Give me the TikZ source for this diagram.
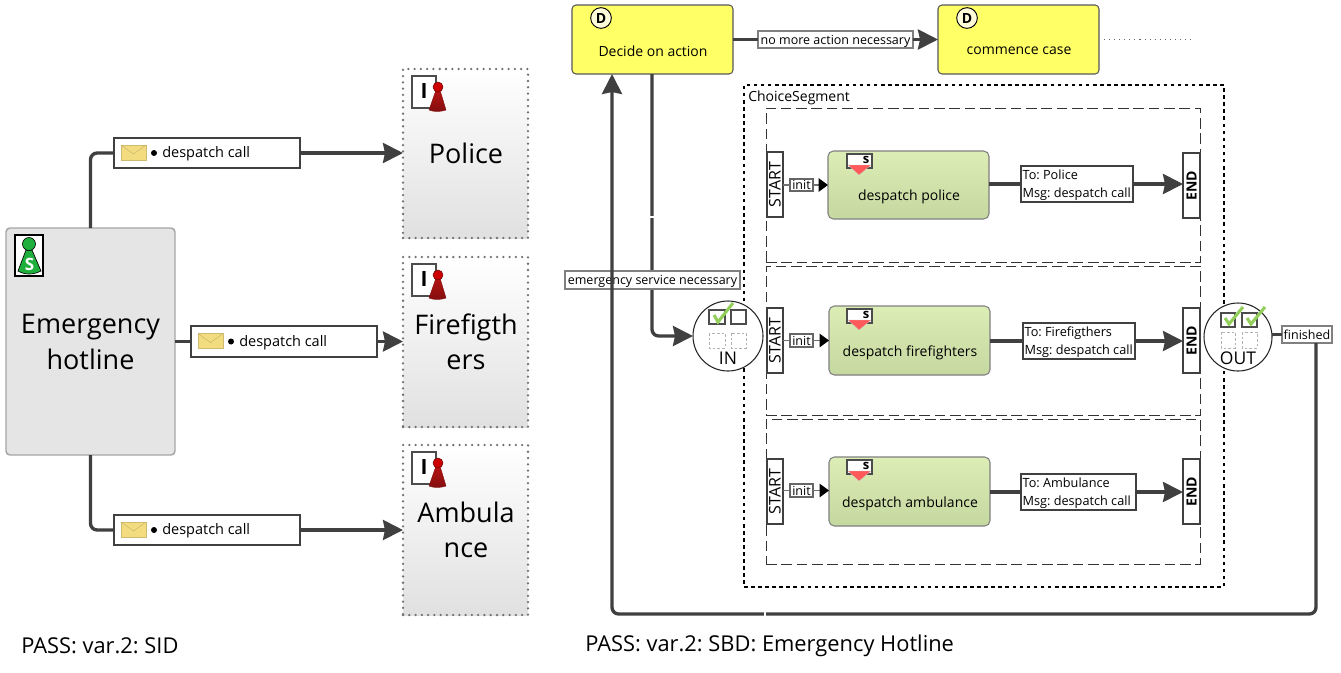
\documentclass[tikz,border=0pt]{standalone}
\usepackage{fontspec}
\setmainfont{Open Sans}
\usetikzlibrary{arrows.meta}
\frenchspacing
\definecolor{conn}{HTML}{404040}
\definecolor{edgeg}{HTML}{707070}
\newcommand\fpx[1]{\pgfmathsetlengthmacro\fsz{#1*0.75}\pgfmathsetlengthmacro\fsl{#1*0.75*1.3}\fontsize{\fsz}{\fsl}\selectfont\frenchspacing}
% box from corners: name, x1,y1,x2,y2, style, text
\newcommand\bx[7]{%
  \pgfmathsetmacro\cxx{(#2+#4)/2}\pgfmathsetmacro\cyy{(#3+#5)/2}%
  \pgfmathsetlengthmacro\ww{(#4-#2)*0.75}\pgfmathsetlengthmacro\hh{(#5-#3)*0.75}%
  \node[inner sep=0pt,outer sep=0pt,minimum width=\ww,minimum height=\hh,#6] (#1) at (\cxx,\cyy) {#7};}
\tikzset{
  x=0.75pt,y=-0.75pt,
  every node/.style={text=black},
  conline/.style={draw=conn,line width=2.5pt,rounded corners=5pt},
  arrowline/.style={conline,-{Stealth[length=15pt,width=15pt,inset=1.5pt]}},
  thinarrow/.style={draw=edgeg,line width=1pt,-{Triangle[length=7pt,width=10pt,color=black]}},
  subject/.style={rounded corners=3pt,draw=black!35,line width=1.1pt,fill=black!10},
  interface/.style={draw=edgeg,line width=1.9pt,line cap=round,dash pattern=on 0pt off 4.7pt,top color=white,bottom color=black!12},
  msglabel/.style={draw=black!75,line width=1pt,fill=white},
  bigtext/.style={font=\fpx{27},align=center,inner sep=0pt},
  smalltext/.style={font=\fpx{14.5},inner sep=0pt,anchor=west,align=left},
  state/.style={rounded corners=3pt,draw=black!65,line width=.8pt,fill=yellowstate},
  sendstate/.style={rounded corners=4pt,draw=black!50,line width=.8pt,top color=greentop,bottom color=greenbot},
  smallbox/.style={draw=black!75,line width=.8pt,fill=white},
  lane/.style={draw=black!80,line width=.75pt,dash pattern=on 8pt off 3.5pt},
  choiceseg/.style={draw=black,line width=2.15pt,dash pattern=on 2.7pt off 2.6pt},
  gatecircle/.style={circle,draw=black!85,line width=.8pt,fill=white,inner sep=0pt,outer sep=0pt},
  cbx/.style={draw=black!70,line width=1pt,fill=white},
  cbxd/.style={draw=black!30,line width=.6pt,dash pattern=on 2pt off 1.5pt},
  tick/.style={draw=tickgreen,line width=2.3pt},
  gapmark/.style={draw=white,line width=.8pt},
  totext/.style={font=\fpx{12.7},align=left,inner sep=0pt,anchor=west,xshift=1pt,yshift=-1.1pt},
  condlabel/.style={smallbox,draw=black!50,font=\fpx{12.5},text depth=0pt},
  initlabel/.style={smallbox,draw=black!60,font=\fpx{12.5},text depth=0pt},
}
\definecolor{yellowstate}{HTML}{FFFF66}
\definecolor{greentop}{HTML}{DCEDB5}
\definecolor{greenbot}{HTML}{C5D8A0}
\definecolor{tickgreen}{HTML}{92CF5A}
\definecolor{pawnred}{HTML}{B81414}
\definecolor{pawngreen}{HTML}{1FAF3C}
\definecolor{envfill}{HTML}{F3DC80}
\newcommand\msg[5]{% name, x1,y1,x2,y2
  \bx{#1}{#2}{#3}{#4}{#5}{msglabel}{}
  \pgfmathsetmacro\my{(#3+#5)/2}\pgfmathsetmacro\ex{#2+7}\pgfmathsetmacro\exx{#2+32}
  \pgfmathsetmacro\ey{\my-8}\pgfmathsetmacro\eyy{\my+7}\pgfmathsetmacro\emy{\my+1}\pgfmathsetmacro\ecx{(\ex+\exx)/2}
  \draw[fill=envfill,draw=envfill!85!black,line width=.4pt] (\ex,\ey) rectangle (\exx,\eyy);
  \draw[draw=envfill!80!black,line width=.3pt] (\ex,\ey) -- (\ecx,\emy) -- (\exx,\ey);
  \pgfmathsetmacro\dx{#2+40}\fill[black] (\dx,\my) circle (3);
  \pgfmathsetmacro\tx{#2+48}\pgfmathsetmacro\tyy{\my+1}\node[smalltext] (#1t) at (\tx,\tyy) {despatch call};}
\newcommand\redpawn[1]{% y offset
  \begin{scope}[yshift=-#1*0.75pt]
  \draw[draw=black!70,line width=.9pt,fill=white] (412,76) rectangle (436,108);
  \node[font=\fpx{21}\bfseries,inner sep=0pt] at (424,91) {I};
  \shade[top color=pawnred,bottom color=pawnred!70!black,draw=pawnred!70!black,line width=.3pt] (436,90) -- (440,90) -- (446,110) .. controls (440,112) and (434,112) .. (429,110) -- cycle;
  \fill[red!80!black,draw=pawnred!60!black,line width=.4pt] (438,87) circle (5);
  \end{scope}}
\newcommand\dicon[1]{\node[circle,draw=black,line width=.7pt,fill=yellow!15,minimum size=15.5pt,inner sep=0pt,font=\fpx{14}\bfseries] at (#1,18) {D};}
\newcommand\sicon[1]{%
  \begin{scope}[yshift=-#1*0.75pt]
  \draw[draw=black!70,line width=.9pt,fill=white] (847,154) rectangle (872,168);
  \fill[red!65,draw=black!20,line width=.2pt] (848,165) -- (871,165) -- (859,175) -- cycle;
  \node[font=\fpx{13}\bfseries,inner sep=0pt] at (866,160) {s};
  \end{scope}}
\begin{document}
\begin{tikzpicture}
\useasboundingbox (0,0) rectangle (1341,672);
\fill[white] (0,0) rectangle (1341,672);

% ---- SID
\bx{hot}{6}{228}{175}{455}{subject}{}
\node[bigtext] (hott) at (90.5,342) {Emergency\\hotline};
\draw[draw=black,line width=.8pt,fill=white] (15,235) rectangle (43,276);
\fill[pawngreen,draw=black,line width=.5pt] (26,250) -- (32,250) -- (41,271) .. controls (33,275) and (25,275) .. (18,271) -- cycle;
\fill[pawngreen,draw=black,line width=.5pt] (29,244) circle (6.5);
\node[font=\fpx{17}\bfseries,text=white,inner sep=0pt] at (29.5,264) {S};

\bx{police}{403}{69}{528}{238}{interface}{}
\bx{fire}{403}{257}{528}{427}{interface}{}
\bx{amb}{403}{445}{528}{615}{interface}{}
\node[bigtext] (policet) at (466,153) {Police};
\node[bigtext] (firet) at (466,342) {Firefigth\\ers};
\node[bigtext] (ambt) at (466,530) {Ambula\\nce};
\redpawn{0}\redpawn{188}\redpawn{376}

\msg{ma}{114}{138}{300}{168}
\msg{mb}{191}{326}{377}{357}
\msg{mc}{114}{515}{300}{545}

\draw[conline] (hot.north) |- (ma.west);
\draw[conline] (hot.east |- mb) -- (mb.west);
\draw[conline] (hot.south) |- (mc.west);
\draw[arrowline] (ma.east) -- (police.west |- ma);
\draw[arrowline] (mb.east) -- (fire.west |- mb);
\draw[arrowline] (mc.east) -- (amb.west |- mc);

\node[font=\fpx{21.85},inner sep=0pt,anchor=west] (cap1) at (21,646) {PASS: var.2: SID};
\node[font=\fpx{21.85},inner sep=0pt,anchor=west] (cap2) at (585,646) {PASS: var.2: SBD: Emergency Hotline};

% ---- SBD
\bx{seg}{744}{85}{1224}{587}{choiceseg}{}
\node[font=\fpx{14},inner sep=0pt,anchor=west] (segt) at (748,98) {ChoiceSegment};
\bx{la}{766}{108}{1200}{262}{lane}{}
\bx{lb}{766}{266}{1200}{415}{lane}{}
\bx{lc}{766}{419}{1200}{564}{lane}{}

\bx{dec}{572}{5}{733}{74}{state}{}
\node[font=\fpx{14},inner sep=0pt] (dect) at (653,51) {Decide on action};
\bx{com}{938}{5}{1099}{74}{state}{}
\node[font=\fpx{14},inner sep=0pt] (comt) at (1019,51) {commence case};
\dicon{601}\dicon{967}
\coordinate (dota) at (1104,39);
\coordinate (dotb) at (1192,39);
\draw[draw=black!60,line width=.6pt,dash pattern=on .8pt off 3pt] (dota) -- (dotb);

% gates
\node[gatecircle,minimum size=52.5pt] (in) at (728,336) {};
\node[gatecircle,minimum size=51pt] (out) at (1238,337) {};
\node[font=\fpx{17.5},inner sep=0pt] (int) at (728,358) {IN};
\node[font=\fpx{17.5},inner sep=0pt] (outt) at (1238,358) {OUT};
\draw[cbx] (709,310) rectangle (725,324);
\draw[cbx] (731,310) rectangle (746,324);
\draw[cbxd] (709,333) rectangle (725,348);
\draw[cbxd] (731,333) rectangle (746,348);
\draw[tick] (714,315) -- (718,322) -- (733,303);
\draw[cbx] (1221,313) rectangle (1235,327);
\draw[cbx] (1242,313) rectangle (1257,327);
\draw[cbxd] (1221,332) rectangle (1235,348);
\draw[cbxd] (1242,332) rectangle (1257,348);
\draw[tick] (1225,318) -- (1229,324) -- (1243,307);
\draw[tick] (1247,318) -- (1251,324) -- (1265,307);

% lane contents
\bx{sa}{767}{152}{783}{217}{smallbox}{\rotatebox{90}{\fpx{16}START}}
\bx{sb}{767}{308}{783}{373}{smallbox}{\rotatebox{90}{\fpx{16}START}}
\bx{sc}{767}{459}{783}{524}{smallbox}{\rotatebox{90}{\fpx{16}START}}
\bx{ea}{1183}{153}{1200}{218}{smallbox}{\rotatebox{90}{\fpx{14}\bfseries END}}
\bx{eb}{1183}{308}{1200}{373}{smallbox}{\rotatebox{90}{\fpx{14}\bfseries END}}
\bx{ec}{1183}{459}{1200}{524}{smallbox}{\rotatebox{90}{\fpx{14}\bfseries END}}
\bx{aa}{828}{151}{989}{219}{sendstate}{}
\bx{ab}{829}{306}{990}{375}{sendstate}{}
\bx{ac}{829}{457}{990}{526}{sendstate}{}
\node[font=\fpx{14},inner sep=0pt] (aat) at (909,197) {despatch police};
\node[font=\fpx{14},inner sep=0pt] (abt) at (910,353) {despatch firefighters};
\node[font=\fpx{14},inner sep=0pt] (act) at (910,504) {despatch ambulance};
\sicon{0}\sicon{155}\sicon{306}
\bx{ia}{790}{179}{813}{191}{initlabel}{init}
\bx{ib}{790}{334}{813}{347}{initlabel}{init}
\bx{ic}{790}{484}{813}{497}{initlabel}{init}
\draw[draw=edgeg,line width=1pt] (sa.east |- ia) -- (ia.west);
\draw[draw=edgeg,line width=1pt] (sb.east |- ib) -- (ib.west);
\draw[draw=edgeg,line width=1pt] (sc.east |- ic) -- (ic.west);
\draw[thinarrow] (ia.east) -- (aa.west |- ia);
\draw[thinarrow] (ib.east) -- (ab.west |- ib);
\draw[thinarrow] (ic.east) -- (ac.west |- ic);

\bx{ta}{1021}{166}{1133}{202}{smallbox}{}
\bx{tb}{1023}{323}{1135}{359}{smallbox}{}
\bx{tc}{1021}{474}{1136}{510}{smallbox}{}
\node[totext] (tat) at (ta.west) {To: Police\\[1.2pt]Msg: despatch call};
\node[totext] (tbt) at (tb.west) {To: Firefigthers\\[1.2pt]Msg: despatch call};
\node[totext] (tct) at (tc.west) {To: Ambulance\\[1.2pt]Msg: despatch call};
\draw[conline] (aa.east |- ta) -- (ta.west);
\draw[conline] (ab.east |- tb) -- (tb.west);
\draw[conline] (ac.east |- tc) -- (tc.west);
\draw[arrowline] (ta.east) -- (ea.west |- ta);
\draw[arrowline] (tb.east) -- (eb.west |- tb);
\draw[arrowline] (tc.east) -- (ec.west |- tc);

% top connectors
\bx{nm}{758}{31}{913}{48}{condlabel}{no more action necessary}
\draw[conline] (dec.east |- nm) -- (nm.west);
\draw[arrowline] (nm.east) -- (com.west |- nm);

\coordinate (decb) at (652,74);
\draw[arrowline] (decb) |- (in.west);
\bx{em}{565}{271}{740}{289}{condlabel}{emergency service necessary}

\bx{fin}{1282}{326}{1332}{343}{condlabel}{finished}
\draw[conline] (out.east |- fin) -- (fin.west);
\coordinate (finb) at (1316,343);
\coordinate (deca) at (612,74);
\coordinate (cr1) at (1316,614);
\coordinate (cr2) at (612,614);
\draw[arrowline] (finb) -- (cr1) -- (cr2) -- (deca);
\draw[gapmark] (650,217) -- (654,217);
\draw[gapmark] (765,612) -- (765,616);
\end{tikzpicture}
\end{document}
